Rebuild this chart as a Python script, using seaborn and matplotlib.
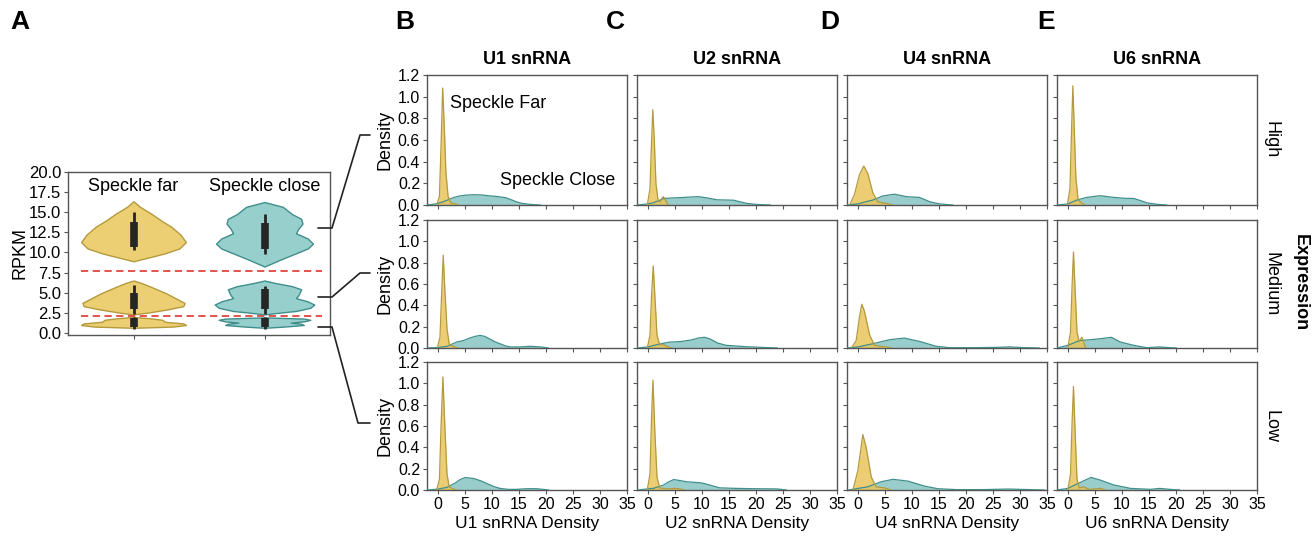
import matplotlib
matplotlib.use("Agg")
import matplotlib.pyplot as plt
from matplotlib.lines import Line2D
import pandas as pd
import seaborn as sns

sns.set_style("ticks")
plt.rcParams['font.family'] = ['Liberation Sans', 'DejaVu Sans']
plt.rcParams['text.color'] = 'black'
plt.rcParams['axes.labelcolor'] = 'black'
plt.rcParams['xtick.labelcolor'] = 'black'
plt.rcParams['ytick.labelcolor'] = 'black'

W, H = 1315, 538

FAR_FILL = '#E9C55A'
FAR_EDGE = '#B39A3E'
CLOSE_FILL = '#86C5C3'
CLOSE_EDGE = '#3F8E8B'
SPINE = '#555555'

SNRNAS = ['U1', 'U2', 'U4', 'U6']
LEVELS = ['High', 'Medium', 'Low']
PANEL_LETTERS = ['B', 'C', 'D', 'E']

# ---- panel A: violin outlines, (RPKM, half width)
FAR_VIOLINS = {
    'High': [(8.9, 0), (9.2, 0.07), (9.6, 0.17), (9.9, 0.24), (10.5, 0.35), (11.3, 0.40), (12.2, 0.36),
             (13.2, 0.29), (14.0, 0.21), (14.8, 0.14), (15.7, 0.05), (16.4, 0)],
    'Medium': [(2.27, 0), (2.5, 0.11), (2.9, 0.26), (3.3, 0.38), (3.7, 0.39), (4.3, 0.32), (4.9, 0.25),
               (5.6, 0.15), (6.2, 0.06), (6.5, 0)],
    'Low': [(0.6, 0), (0.75, 0.3), (0.95, 0.40), (1.15, 0.38), (1.35, 0.24), (1.6, 0.22), (1.8, 0.12), (1.95, 0)],
}
CLOSE_VIOLINS = {
    'High': [(8.25, 0), (9.1, 0.12), (9.9, 0.24), (10.5, 0.33), (11.1, 0.37), (11.75, 0.33), (12.4, 0.24),
             (13.0, 0.26), (13.6, 0.29), (14.2, 0.28), (14.8, 0.21), (15.7, 0.14), (16.3, 0)],
    'Medium': [(2.27, 0), (2.5, 0.12), (2.7, 0.24), (3.1, 0.35), (3.5, 0.38), (3.9, 0.33), (4.3, 0.24),
               (4.7, 0.26), (5.4, 0.28), (5.8, 0.21), (6.2, 0.08), (6.5, 0)],
    'Low': [(0.6, 0), (0.75, 0.15), (0.95, 0.30), (1.1, 0.28), (1.25, 0.2), (1.4, 0.30), (1.6, 0.35),
            (1.75, 0.30), (1.85, 0.1), (1.9, 0)],
}
# whisker low, q1, q3, whisker high
FAR_BOXES = {'High': (10.3, 10.7, 13.8, 15.0), 'Medium': (2.3, 2.9, 5.0, 6.0), 'Low': (0.5, 0.65, 1.8, 1.95)}
CLOSE_BOXES = {'High': (9.8, 10.4, 13.7, 14.85), 'Medium': (2.3, 2.9, 5.4, 5.85), 'Low': (0.5, 0.7, 1.8, 1.95)}
CUTOFFS = [7.75, 2.1]
GROUPS = ['Speckle far', 'Speckle close']

# ---- panels B-E: density curves, (snRNA density, density)
U1_FAR = {
    'High': [(-0.2, 0), (0.3, 0.08), (0.6, 0.55), (0.9, 1.08), (1.2, 0.72), (1.5, 0.3), (1.9, 0.08),
             (2.4, 0.02), (3.2, 0.01), (3.8, 0)],
    'Medium': [(-0.1, 0), (0.4, 0.1), (0.7, 0.5), (1.0, 0.87), (1.3, 0.55), (1.7, 0.18), (2.1, 0.04),
               (2.8, 0.015), (3.8, 0)],
    'Low': [(-0.2, 0), (0.3, 0.1), (0.6, 0.6), (0.95, 1.06), (1.3, 0.6), (1.7, 0.15), (2.1, 0.03),
            (2.8, 0.01), (3.5, 0)],
}
U1_CLOSE = {
    'High': [(-2, 0), (-1, 0.005), (0, 0.015), (1, 0.03), (2, 0.05), (3, 0.07), (4, 0.083), (5, 0.09),
             (6.5, 0.095), (8, 0.093), (9.5, 0.085), (11, 0.078), (12.5, 0.068), (13.5, 0.05), (14.5, 0.03),
             (15.5, 0.015), (17, 0.006), (19, 0)],
    'Medium': [(-2, 0), (0, 0.005), (1.7, 0.015), (2.8, 0.04), (3.5, 0.056), (4.75, 0.07), (6, 0.095),
               (7, 0.11), (7.8, 0.118), (8.6, 0.11), (9.4, 0.09), (10.5, 0.06), (11.5, 0.04), (12.5, 0.02),
               (13.4, 0.01), (15.3, 0.01), (17.1, 0.016), (19, 0.01), (20.5, 0)],
    'Low': [(-2, 0), (0, 0.008), (1.7, 0.025), (3.2, 0.065), (4.2, 0.1), (5.1, 0.117), (6.6, 0.108),
            (8, 0.085), (9.1, 0.06), (10.5, 0.03), (11.5, 0.015), (13, 0.006), (14.5, 0.006), (16.5, 0.012),
            (18.3, 0.012), (20.5, 0)],
}
U2_FAR = {
    'High': [(-0.1, 0), (0.4, 0.15), (0.7, 0.6), (0.93, 0.88), (1.2, 0.6), (1.5, 0.2), (1.9, 0.04),
             (2.3, 0.03), (2.6, 0.06), (2.9, 0.077), (3.2, 0.05), (3.8, 0)],
    'Medium': [(-0.1, 0), (0.4, 0.12), (0.7, 0.5), (1.0, 0.77), (1.3, 0.5), (1.7, 0.12), (2.2, 0.03),
               (3, 0.03), (3.8, 0.01), (4.5, 0)],
    'Low': [(-0.1, 0), (0.4, 0.15), (0.7, 0.7), (0.95, 1.03), (1.3, 0.55), (1.7, 0.12), (2.2, 0.02),
            (3.5, 0.01), (5, 0.015), (6, 0.01), (6.8, 0)],
}
U2_CLOSE = {
    'High': [(-2, 0), (0, 0.01), (1, 0.02), (2, 0.04), (2.9, 0.06), (4.5, 0.065), (6, 0.068), (8, 0.074),
             (9.4, 0.077), (11, 0.065), (12.8, 0.048), (14.5, 0.046), (15.9, 0.044), (17, 0.03),
             (18.3, 0.015), (20.2, 0.005), (22.7, 0)],
    'Medium': [(-2, 0), (0, 0.01), (2, 0.035), (4, 0.055), (6, 0.06), (8, 0.075), (9.5, 0.095),
               (10.5, 0.1), (11.5, 0.085), (13, 0.045), (14.5, 0.025), (16, 0.02), (18, 0.012),
               (21, 0.006), (24, 0)],
    'Low': [(-2, 0), (0, 0.01), (1, 0.015), (2.9, 0.046), (3.8, 0.075), (4.8, 0.098), (6, 0.088),
            (7.2, 0.077), (8.5, 0.072), (9.7, 0.068), (10.5, 0.06), (11.5, 0.046), (13.3, 0.02),
            (16.4, 0.015), (19.5, 0.012), (23.9, 0.01), (25.7, 0)],
}
U4_FAR = {
    'High': [(-1.5, 0), (-0.6, 0.1), (0.3, 0.28), (1.1, 0.36), (1.85, 0.29), (2.8, 0.11), (3.7, 0.03),
             (5.2, 0.015), (6.5, 0)],
    'Medium': [(-1.2, 0), (-0.3, 0.07), (0.3, 0.29), (0.74, 0.41), (1.2, 0.35), (2.2, 0.12), (3.1, 0.025),
               (5.2, 0.01), (6.2, 0)],
    'Low': [(-0.9, 0), (0, 0.18), (0.93, 0.52), (1.54, 0.4), (2.5, 0.12), (3.4, 0.03), (4.9, 0.02),
            (6.2, 0)],
}
U4_CLOSE = {
    'High': [(-2, 0), (0, 0.01), (1.5, 0.03), (2.8, 0.046), (4.6, 0.083), (6.8, 0.1), (8.95, 0.077),
             (11.4, 0.07), (13.3, 0.03), (15.1, 0.01), (17.6, 0)],
    'Medium': [(-2, 0), (0, 0.01), (2.8, 0.04), (5.9, 0.078), (8.6, 0.093), (11.4, 0.062), (14.5, 0.016),
               (17, 0.003), (21.3, 0.003), (25.6, 0.006), (28, 0.01), (30.5, 0.004), (33.6, 0)],
    'Low': [(-1.7, 0), (1.85, 0.03), (4.3, 0.077), (6.5, 0.1), (9.3, 0.083), (12.3, 0.037), (14.8, 0.012),
            (18.5, 0.003), (23.5, 0.004), (27.8, 0.009), (31.5, 0.004), (34.6, 0)],
}
U6_FAR = {
    'High': [(-0.1, 0), (0.4, 0.15), (0.7, 0.7), (0.93, 1.1), (1.2, 0.7), (1.5, 0.25), (1.9, 0.05),
             (2.5, 0.02), (3.2, 0)],
    'Medium': [(0, 0), (0.5, 0.15), (0.8, 0.6), (1.05, 0.9), (1.35, 0.55), (1.7, 0.15), (2.1, 0.06),
               (2.6, 0.1), (2.9, 0.06), (3.3, 0)],
    'Low': [(0, 0), (0.5, 0.15), (0.8, 0.65), (1.05, 0.97), (1.35, 0.55), (1.7, 0.1), (2.1, 0.02),
            (2.9, 0.03), (4, 0.005), (6, 0.015), (7, 0)],
}
U6_CLOSE = {
    'High': [(-2, 0), (0, 0.01), (1.7, 0.046), (3.5, 0.07), (6, 0.086), (8.5, 0.07), (10.5, 0.062),
             (12.2, 0.06), (13.5, 0.04), (14.6, 0.02), (16.5, 0.006), (18.3, 0)],
    'Medium': [(-2, 0), (0, 0.025), (2.2, 0.07), (4.1, 0.077), (6, 0.087), (8.1, 0.1), (9.7, 0.056),
               (12.2, 0.025), (14.6, 0.003), (17, 0.01), (18.9, 0.003), (20.1, 0)],
    'Low': [(-2, 0), (0, 0.015), (1.85, 0.06), (4.3, 0.118), (6, 0.093), (8.5, 0.047), (11.6, 0.015),
            (15.3, 0.006), (17, 0.015), (18.9, 0.006), (20.7, 0)],
}
FAR_CURVES = {'U1': U1_FAR, 'U2': U2_FAR, 'U4': U4_FAR, 'U6': U6_FAR}
CLOSE_CURVES = {'U1': U1_CLOSE, 'U2': U2_CLOSE, 'U4': U4_CLOSE, 'U6': U6_CLOSE}


def px_axes(fig, left, top, right, bottom):
    """Add axes from pixel edges (origin top-left)."""
    return fig.add_axes([left / W, 1 - bottom / H, (right - left) / W, (bottom - top) / H])


def style_spines(ax):
    for s in ax.spines.values():
        s.set_visible(True)
        s.set_color(SPINE)
        s.set_linewidth(1.0)
    ax.tick_params(color=SPINE, labelcolor='black', length=3, width=0.8, labelsize=11.5, pad=2)


def draw_violin(ax, pos, profile, box, fill, edge):
    df = pd.DataFrame(profile, columns=['y', 'w'])
    ax.fill_betweenx(df['y'], pos - df['w'], pos + df['w'], facecolor=fill, edgecolor=edge,
                     linewidth=1.0, zorder=2)
    wlo, q1, q3, whi = box
    ax.plot([pos, pos], [wlo, whi], color='#262626', lw=2, solid_capstyle='butt', zorder=3)
    ax.plot([pos, pos], [q1, q3], color='#262626', lw=5.5, solid_capstyle='butt', zorder=3)


def draw_density(ax, points, fill, edge):
    df = pd.DataFrame(points, columns=['x', 'density'])
    ax.fill_between(df['x'], 0, df['density'], facecolor=fill, alpha=0.85, linewidth=0, zorder=2)
    sns.lineplot(data=df, x='x', y='density', ax=ax, color=edge, lw=0.9, sort=False, zorder=3)


fig = plt.figure(figsize=(W / 100, H / 100), dpi=100)

# ---------------- panel A
axA = px_axes(fig, 68, 172, 330, 335)
for lvl in LEVELS:
    draw_violin(axA, 0, FAR_VIOLINS[lvl], FAR_BOXES[lvl], '#EDCF73', FAR_EDGE)
    draw_violin(axA, 1, CLOSE_VIOLINS[lvl], CLOSE_BOXES[lvl], '#97CFCD', CLOSE_EDGE)
for c in CUTOFFS:
    axA.axhline(c, xmin=0.05, xmax=0.97, color='#E2453E', lw=1.3, dashes=(4, 2.5), zorder=4)
axA.set_xlim(-0.5, 1.5)
axA.set_ylim(-0.3, 20.05)
axA.set_yticks([0, 2.5, 5, 7.5, 10, 12.5, 15, 17.5, 20])
axA.set_yticklabels([f'{v:.1f}' for v in [0, 2.5, 5, 7.5, 10, 12.5, 15, 17.5, 20]])
axA.set_xticks([0, 1])
axA.set_xticklabels(['', ''])
style_spines(axA)
axA.tick_params(labelsize=12)
axA.set_ylabel('RPKM', fontsize=13, labelpad=0)
for i, g in enumerate(GROUPS):
    axA.text(i, 18.2, g, ha='center', va='center', fontsize=13)

# ---------------- panels B-E
col_left = [427, 637, 847, 1057]
row_edges = [(75, 205), (220, 348), (362, 490)]
for c, rna in enumerate(SNRNAS):
    for r, lvl in enumerate(LEVELS):
        top, bottom = row_edges[r]
        ax = px_axes(fig, col_left[c], top, col_left[c] + 200, bottom)
        draw_density(ax, CLOSE_CURVES[rna][lvl], CLOSE_FILL, CLOSE_EDGE)
        draw_density(ax, FAR_CURVES[rna][lvl], FAR_FILL, FAR_EDGE)
        ax.set_xlim(-2, 35)
        ax.set_ylim(0, 1.2)
        ax.set_xticks(range(0, 36, 5))
        ax.set_yticks([0, 0.2, 0.4, 0.6, 0.8, 1.0, 1.2])
        style_spines(ax)
        if c == 0:
            ax.set_yticklabels(['0.0', '0.2', '0.4', '0.6', '0.8', '1.0', '1.2'])
            ax.set_ylabel('Density', fontsize=13, labelpad=3)
        else:
            ax.set_yticklabels([])
            ax.set_ylabel('')
        if r == 2:
            ax.set_xlabel(f'{rna} snRNA Density', fontsize=12.5, labelpad=3)
        else:
            ax.set_xticklabels([])
            ax.set_xlabel('')
        if r == 0:
            ax.set_title(f'{rna} snRNA', fontsize=13, fontweight='bold', pad=8)
        if c == 3:
            ax.text(1.07, 0.5, lvl, transform=ax.transAxes, rotation=270,
                    ha='center', va='center', fontsize=13)
        if c == 0 and r == 0:
            ax.text(2.3, 0.94, 'Speckle Far', ha='left', va='center', fontsize=13)
            ax.text(32.8, 0.23, 'Speckle Close', ha='right', va='center', fontsize=13)

fig.text(1300 / W, 1 - 283 / H, 'Expression', rotation=270, ha='center', va='center',
         fontsize=13, fontweight='bold')

# panel letters
for letter, x in zip(['A'] + PANEL_LETTERS, [20, 405, 615, 830, 1046]):
    fig.text(x / W, 1 - 22 / H, letter, ha='center', va='center', fontsize=19, fontweight='bold')

# bracket lines from panel A to the rows
brackets = [
    [(318, 228), (332, 228), (360, 135), (370, 135)],
    [(318, 297), (332, 297), (360, 273), (370, 273)],
    [(318, 327), (332, 327), (358, 423), (370, 423)],
]
for pts in brackets:
    xs = [p[0] / W for p in pts]
    ys = [1 - p[1] / H for p in pts]
    fig.add_artist(Line2D(xs, ys, transform=fig.transFigure, color='#222222', lw=1.2))

fig.savefig('out.png', dpi=100)
